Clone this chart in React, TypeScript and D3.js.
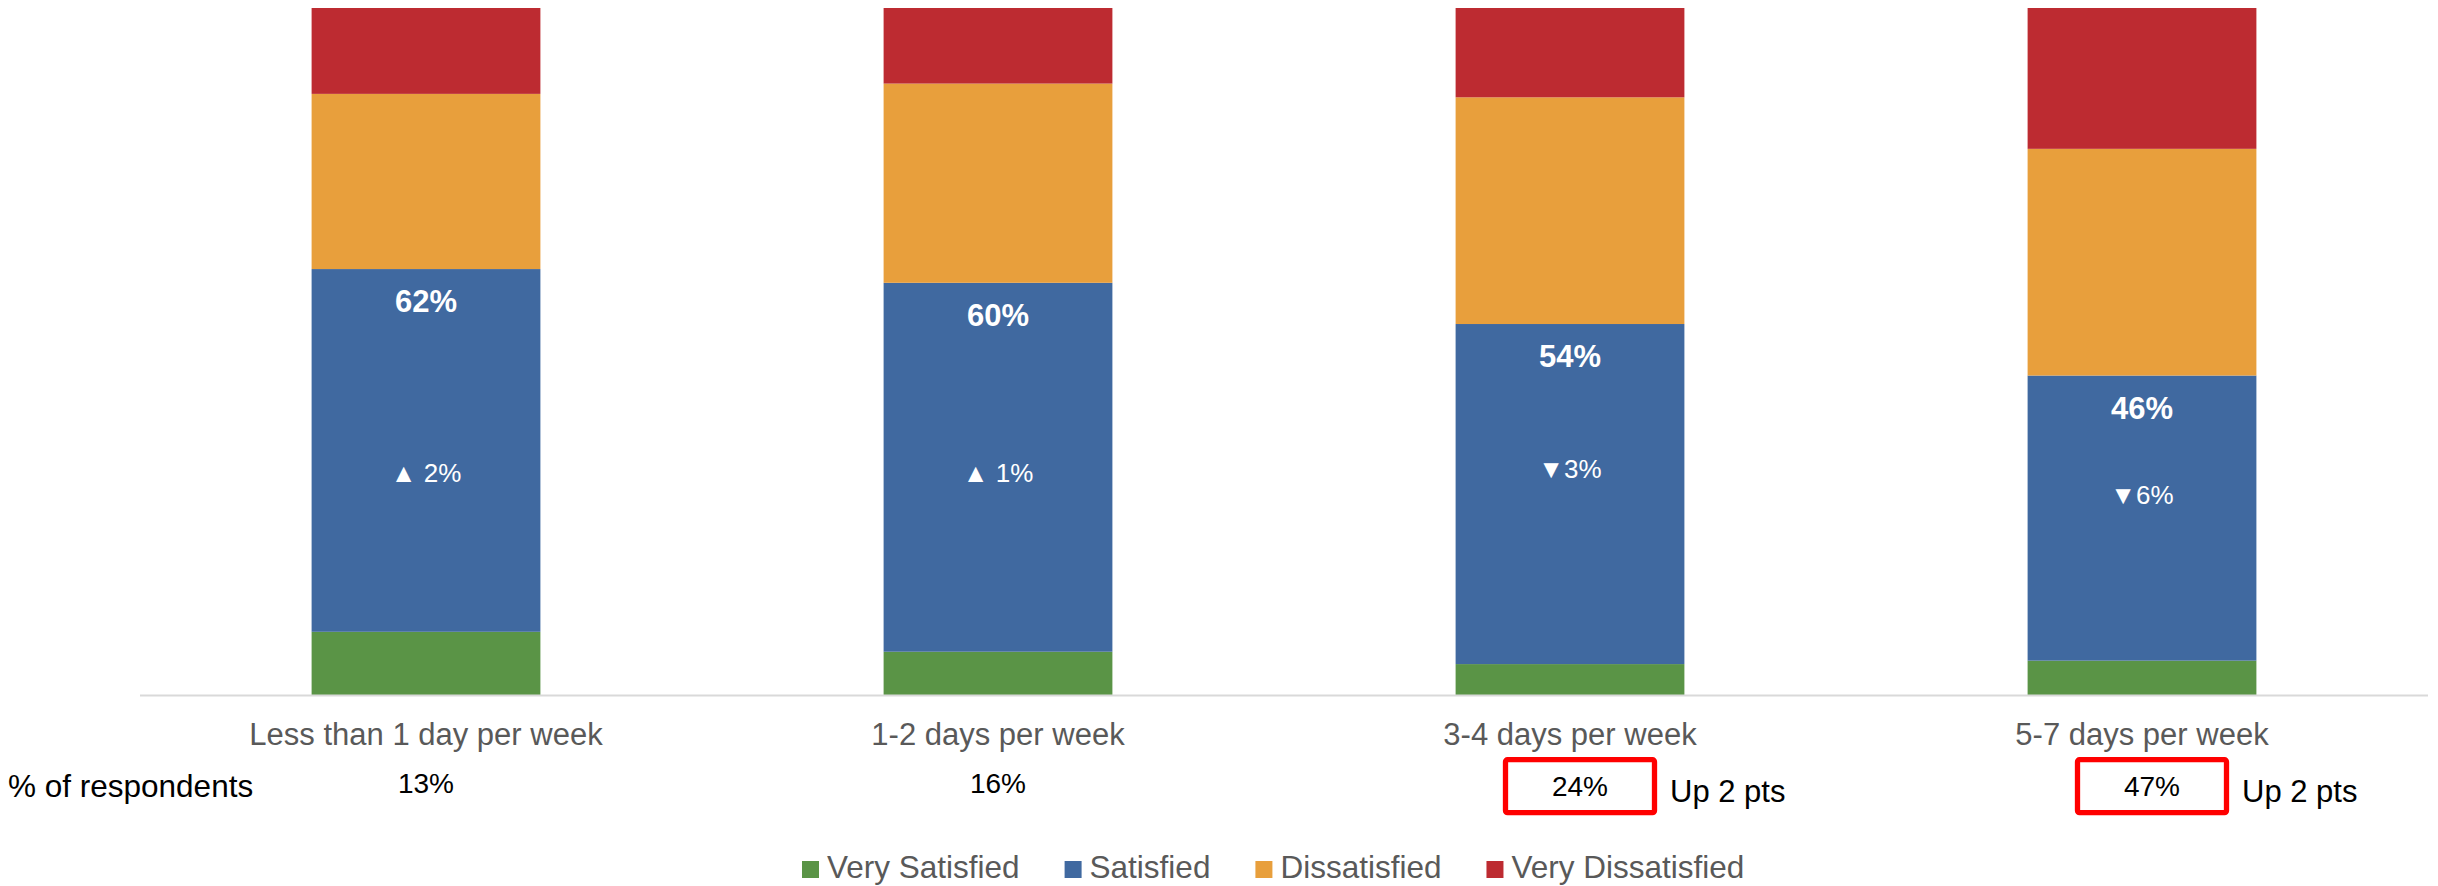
import * as d3 from "d3";

const categories = [
  "Less than 1 day per week",
  "1-2 days per week",
  "3-4 days per week",
  "5-7 days per week",
];
const seriesNames = ["Very Satisfied", "Satisfied", "Dissatisfied", "Very Dissatisfied"];
const seriesColors = ["#5a9446", "#4069a0", "#e89f3c", "#bd2b31"];

// values in % of each bar
const verySatisfied = [9.2, 6.3, 4.5, 5];
const satisfied = [52.8, 53.7, 49.5, 41.5];
const dissatisfied = [25.5, 29, 33, 33];
const veryDissatisfied = [12.5, 11, 13, 20.5];

const satisfiedTotalLabels = ["62%", "60%", "54%", "46%"];
const changeLabels = ["▲ 2%", "▲ 1%", "▼3%", "▼6%"];
const changeLabelValue = [31, 31, 31.6, 27.8]; // y position of the change label, in chart units
const respondentShare = ["13%", "16%", "24%", "47%"];
const respondentBoxed = [false, false, true, true];
const respondentNotes = ["", "", "Up 2 pts", "Up 2 pts"];

const W = 2438;
const H = 886;
const FONT = "'Liberation Sans', Arial, sans-serif";

const measure = (text: string, size: number) => {
  const ctx = document.createElement("canvas").getContext("2d");
  if (!ctx) return text.length * size * 0.5;
  ctx.font = `${size}px 'Liberation Sans', Arial, sans-serif`;
  return ctx.measureText(text).width;
};

const App = () => {
  const rows = categories.map((c, i) => ({
    category: c,
    "Very Satisfied": verySatisfied[i],
    Satisfied: satisfied[i],
    Dissatisfied: dissatisfied[i],
    "Very Dissatisfied": veryDissatisfied[i],
  }));
  const stacked = d3.stack<any>().keys(seriesNames)(rows);

  const x = d3
    .scaleBand()
    .domain(categories)
    .range([140, 2428])
    .paddingInner(0.6)
    .paddingOuter(0.3);
  const y = d3.scaleLinear().domain([0, 100]).range([695, 8]);
  const color = d3.scaleOrdinal<string>().domain(seriesNames).range(seriesColors);

  const cx = (c: string) => (x(c) ?? 0) + x.bandwidth() / 2;

  // legend layout
  const legendSize = 31.5;
  let lx = 802;
  const legendItems = seriesNames.map((name) => {
    const item = { name, x: lx };
    lx += 17 + 8 + measure(name, legendSize) + 45;
    return item;
  });

  return (
    <svg
      width={W}
      height={H}
      style={{ position: "absolute", left: 0, top: 0, background: "#fff" }}
      fontFamily={FONT}
    >
      {stacked.map((layer) => (
        <g key={layer.key} fill={color(layer.key)}>
          {layer.map((d, i) => (
            <rect
              key={i}
              x={x(categories[i])}
              width={x.bandwidth()}
              y={y(d[1])}
              height={y(d[0]) - y(d[1])}
            />
          ))}
        </g>
      ))}

      <line x1={140} x2={2428} y1={695.5} y2={695.5} stroke="#d9d9d9" strokeWidth={2} />

      {/* satisfied totals and change */}
      {categories.map((c, i) => {
        const blueTop = y(verySatisfied[i] + satisfied[i]);
        return (
          <g key={c} fill="#fff" textAnchor="middle">
            <text x={cx(c)} y={blueTop + 43} fontSize={31} fontWeight="bold">
              {satisfiedTotalLabels[i]}
            </text>
            <text x={cx(c)} y={y(changeLabelValue[i])} fontSize={26}>
              {changeLabels[i]}
            </text>
          </g>
        );
      })}

      {/* category labels */}
      {categories.map((c) => (
        <text key={c} x={cx(c)} y={745} fontSize={31} fill="#595959" textAnchor="middle">
          {c}
        </text>
      ))}

      <text x={8} y={797} fontSize={31.5} fill="#000">
        % of respondents
      </text>

      {categories.map((c, i) =>
        respondentBoxed[i] ? (
          <g key={c}>
            <rect
              x={cx(c) + 10 - 74.5}
              y={759.7}
              width={149}
              height={53}
              rx={2}
              fill="#fff"
              stroke="#ff0000"
              strokeWidth={5.3}
            />
            <text x={cx(c) + 10} y={796} fontSize={28} textAnchor="middle" fill="#000">
              {respondentShare[i]}
            </text>
            <text x={cx(c) + 10 + 90} y={802} fontSize={31} fill="#000">
              {respondentNotes[i]}
            </text>
          </g>
        ) : (
          <text key={c} x={cx(c)} y={793} fontSize={28} textAnchor="middle" fill="#000">
            {respondentShare[i]}
          </text>
        )
      )}

      {/* legend */}
      {legendItems.map((it) => (
        <g key={it.name}>
          <rect x={it.x} y={861} width={17} height={17} fill={color(it.name)} />
          <text x={it.x + 25} y={877.7} fontSize={legendSize} fill="#595959">
            {it.name}
          </text>
        </g>
      ))}
    </svg>
  );
};

export default App;
